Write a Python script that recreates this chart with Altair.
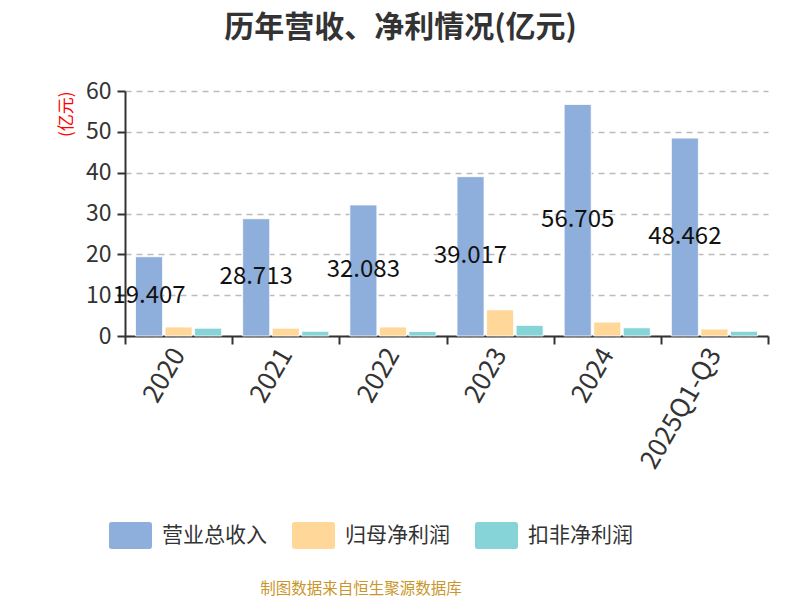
import altair as alt
import pandas as pd

years = ["2020", "2021", "2022", "2023", "2024", "2025Q1-Q3"]
revenue = [19.407, 28.713, 32.083, 39.017, 56.705, 48.462]
net_profit = [2.2, 1.9, 2.2, 6.4, 3.4, 1.7]
deducted = [1.9, 1.15, 1.1, 2.6, 2.0, 1.15]
series = ["营业总收入", "归母净利润", "扣非净利润"]
colors = ["#8EAEDB", "#FFD899", "#86D4D8"]

rows = []
for i, y in enumerate(years):
    for s, vals in zip(series, [revenue, net_profit, deducted]):
        rows.append({"year": y, "series": s, "value": vals[i], "half": vals[i] / 2,
                     "label": f"{vals[i]:.3f}"})
df = pd.DataFrame(rows)

FONT = "Noto Sans CJK SC"
rr = "M-1.4,-1 L1.4,-1 Q1.6,-1 1.6,-0.8 L1.6,0.8 Q1.6,1 1.4,1 L-1.4,1 Q-1.6,1 -1.6,0.8 L-1.6,-0.8 Q-1.6,-1 -1.4,-1 Z"

x_enc = alt.X("year:N", sort=years, title=None,
              scale=alt.Scale(paddingInner=0, paddingOuter=0),
              axis=alt.Axis(labelAngle=-60, labelFontSize=26, labelColor="#333",
                            labelFont=FONT, tickBand="extent", tickSize=8,
                            tickColor="#333", domainColor="#333", domainWidth=2,
                            tickWidth=2, labelPadding=6, labelAlign="right",
                            labelBaseline="middle", labelLimit=300))
xo_enc = alt.XOffset("series:N", sort=series,
                     scale=alt.Scale(paddingInner=0.085, paddingOuter=0.356))

bars = alt.Chart(df).mark_bar(stroke="white", strokeWidth=0.8).encode(
    x=x_enc,
    xOffset=xo_enc,
    y=alt.Y("value:Q", title="(亿元)",
            scale=alt.Scale(domain=[0, 60], nice=False),
            axis=alt.Axis(values=[0, 10, 20, 30, 40, 50, 60], labelFontSize=23,
                          labelColor="#333", labelFont=FONT, tickSize=8,
                          tickColor="#333", tickWidth=2, domainColor="#333",
                          domainWidth=2, grid=True, gridDash=[6, 5],
                          gridColor="#bbb", gridWidth=1.5, labelPadding=6,
                          titleColor="red", titleFontSize=17, titleFont=FONT,
                          titleFontWeight="normal", titleAnchor="end",
                          titlePadding=10)),
    color=alt.Color("series:N", sort=series,
                    scale=alt.Scale(domain=series, range=colors),
                    legend=alt.Legend(title=None, orient="none", direction="horizontal",
                                      legendX=-8, legendY=431,
                                      symbolType=rr, symbolSize=723,
                                      symbolStrokeWidth=0, symbolOpacity=1,
                                      labelFontSize=21, labelFont=FONT,
                                      labelColor="#333", labelOffset=18,
                                      columnPadding=24, labelLimit=300)),
)

labels = alt.Chart(df[df["series"] == "营业总收入"]).mark_text(
    fontSize=24, font=FONT, color="#111", align="center", baseline="middle"
).encode(
    x=alt.X("year:N", sort=years),
    xOffset=xo_enc,
    y=alt.Y("half:Q"),
    text="label:N",
)

src = pd.DataFrame({"t": ["制图数据来自恒生聚源数据库"]})
source = alt.Chart(src).mark_text(
    fontSize=15.5, font=FONT, color="#C9962B", align="center", baseline="middle"
).encode(x=alt.value(236), y=alt.value(498), text="t:N")

chart = alt.layer(bars, labels, source).properties(
    width=643, height=245,
    title=alt.TitleParams("历年营收、净利情况(亿元)", fontSize=30, font=FONT,
                          fontWeight="bold", color="#333", anchor="middle",
                          dx=-46, offset=37),
    autosize=alt.AutoSizeParams(type="none"),
    padding={"left": 117, "top": 83, "right": 24, "bottom": 264},
).configure_view(stroke=None)

chart.save("out.html", embed_options={"renderer": "svg", "actions": False})
